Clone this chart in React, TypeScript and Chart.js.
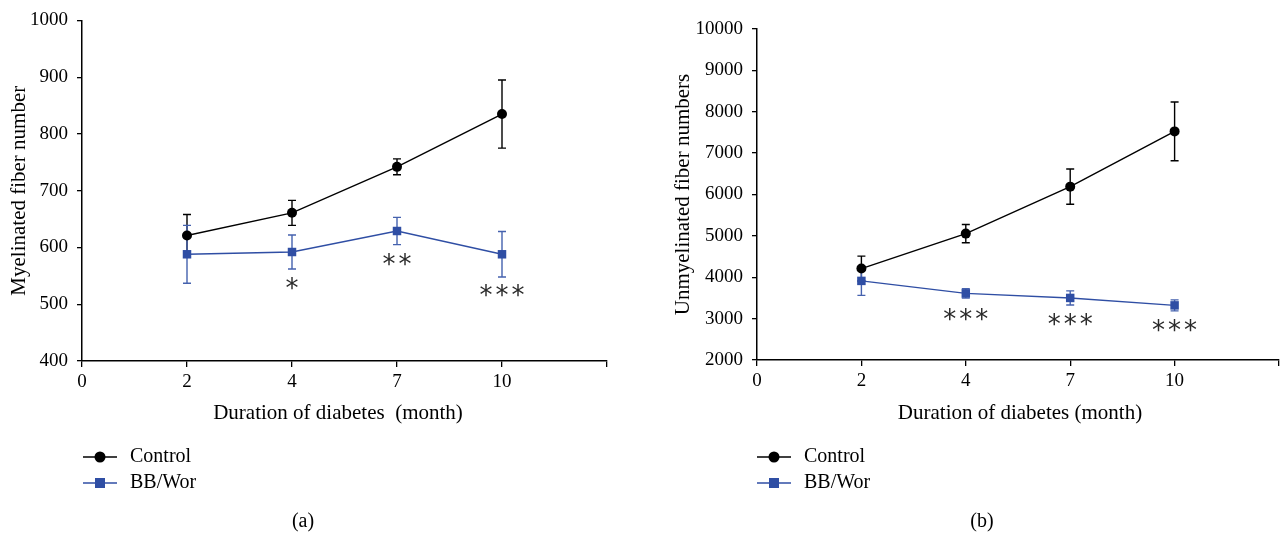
import React, { useEffect, useRef } from 'react';
import { Chart, registerables } from 'chart.js';
Chart.register(...registerables);

const FONT = "'Liberation Serif', 'Times New Roman', serif";
const STAR_FONT = "'DejaVu Sans', sans-serif";
const BLUE = '#2F4EA4';
const BLUE_ERR = '#4562AE';

// x axis tick labels (category-like positions 0..5)
const tickLabels = ['0', '2', '4', '7', '10', ''];
const months = ['2', '4', '7', '10'];

// Panel (a): myelinated fiber number
const myelControl = [621, 661, 742, 835];
const myelControlErr = [37, 22, 14, 60];
const myelBB = [588, 592, 629, 588];
const myelBBErr = [51, 30, 24, 40];
const myelSig = ['', '*', '**', '***'];
const myelSigY = [0, 537, 579, 525];

// Panel (b): unmyelinated fiber numbers
const unmyelControl = [4210, 5055, 6190, 7525];
const unmyelControlErr = [300, 220, 425, 710];
const unmyelBB = [3912, 3610, 3500, 3320];
const unmyelBBErr = [350, 112, 170, 132];
const unmyelSig = ['', '***', '***', '***'];
const unmyelSigY = [0, 3110, 2990, 2845];

const seriesNames = ['Control', 'BB/Wor'];

type PanelCfg = {
  width: number;
  height: number;
  yMin: number;
  yMax: number;
  yStep: number;
  yTitle: string;
  xTitle: string;
  label: string;
  control: number[];
  controlErr: number[];
  bb: number[];
  bbErr: number[];
  sig: string[];
  sigY: number[];
  yWidth: number;
  top: number;
  right: number;
  xHeight: number;
  yTitleX: number;
  xTitleX: number;
  labelX: number;
  legendX: number;
};

function makeChart(canvas: HTMLCanvasElement, p: PanelCfg) {
  const xs = months.map((m) => tickLabels.indexOf(m));
  const pts = (vals: number[]) => vals.map((v, i) => ({ x: xs[i], y: v }));

  const errPlugin = {
    id: 'errbars',
    beforeDatasetsDraw(chart: any) {
      const { ctx, scales } = chart;
      const xS = scales.x;
      const yS = scales.y;
      chart.data.datasets.forEach((ds: any) => {
        ctx.save();
        ctx.strokeStyle = ds.errColor;
        ctx.lineWidth = 1.4;
        ds.data.forEach((pt: any, i: number) => {
          const e = ds.errors[i];
          const px = xS.getPixelForValue(pt.x);
          const top = yS.getPixelForValue(pt.y + e);
          const bot = yS.getPixelForValue(pt.y - e);
          ctx.beginPath();
          ctx.moveTo(px, top);
          ctx.lineTo(px, bot);
          ctx.moveTo(px - 4, top);
          ctx.lineTo(px + 4, top);
          ctx.moveTo(px - 4, bot);
          ctx.lineTo(px + 4, bot);
          ctx.stroke();
        });
        ctx.restore();
      });
    },
  };

  const decoPlugin = {
    id: 'deco',
    afterDraw(chart: any) {
      const { ctx, scales, chartArea } = chart;
      const xS = scales.x;
      const yS = scales.y;
      ctx.save();
      // significance stars
      ctx.fillStyle = '#2a2a2a';
      ctx.font = `26px ${STAR_FONT}`;
      ctx.textBaseline = 'alphabetic';
      ctx.textAlign = 'center';
      p.sig.forEach((s, i) => {
        if (!s) return;
        const cx = xS.getPixelForValue(xs[i]);
        const cy = yS.getPixelForValue(p.sigY[i]);
        const m = ctx.measureText('*');
        const off = (m.actualBoundingBoxAscent - m.actualBoundingBoxDescent) / 2;
        const gap = 16;
        const n = s.length;
        for (let k = 0; k < n; k++) {
          const x = cx + (k - (n - 1) / 2) * gap;
          ctx.fillText('*', x, cy + off);
        }
      });
      // axis titles
      ctx.fillStyle = '#000';
      ctx.font = `21px ${FONT}`;
      ctx.textAlign = 'center';
      ctx.textBaseline = 'middle';
      ctx.fillText(p.xTitle, p.xTitleX, 413);
      ctx.save();
      ctx.translate(p.yTitleX, (chartArea.top + chartArea.bottom) / 2);
      ctx.rotate(-Math.PI / 2);
      ctx.fillText(p.yTitle, 0, 0);
      ctx.restore();
      // legend
      ctx.font = `20px ${FONT}`;
      ctx.textAlign = 'left';
      const lx = p.legendX;
      const rows = [
        { y: 457, color: '#000', shape: 'circle' },
        { y: 483, color: BLUE, shape: 'rect' },
      ];
      rows.forEach((r, i) => {
        ctx.strokeStyle = r.color;
        ctx.fillStyle = r.color;
        ctx.lineWidth = 1.5;
        ctx.beginPath();
        ctx.moveTo(lx, r.y);
        ctx.lineTo(lx + 34, r.y);
        ctx.stroke();
        ctx.beginPath();
        if (r.shape === 'circle') {
          ctx.arc(lx + 17, r.y, 5.5, 0, Math.PI * 2);
        } else {
          ctx.rect(lx + 12, r.y - 5, 10, 10);
        }
        ctx.fill();
        ctx.fillStyle = '#000';
        ctx.fillText(seriesNames[i], lx + 47, r.y);
      });
      // panel label
      ctx.textAlign = 'center';
      ctx.fillText(p.label, p.labelX, 522);
      ctx.restore();
    },
  };

  return new Chart(canvas, {
    type: 'line',
    data: {
      datasets: [
        {
          label: seriesNames[0],
          data: pts(p.control),
          errors: p.controlErr,
          errColor: '#000',
          borderColor: '#000',
          backgroundColor: '#000',
          borderWidth: 1.4,
          pointStyle: 'circle',
          pointRadius: 5,
          pointBorderWidth: 0,
          pointBackgroundColor: '#000',
          tension: 0,
          clip: false,
        } as any,
        {
          label: seriesNames[1],
          data: pts(p.bb),
          errors: p.bbErr,
          errColor: BLUE_ERR,
          borderColor: BLUE,
          backgroundColor: BLUE,
          borderWidth: 1.4,
          pointStyle: 'rect',
          pointRadius: 6,
          pointBorderWidth: 0,
          pointBackgroundColor: BLUE,
          tension: 0,
          clip: false,
        } as any,
      ],
    },
    options: {
      animation: false,
      responsive: false,
      devicePixelRatio: 1,
      layout: { padding: { left: 0, top: p.top, right: p.right, bottom: 0 } },
      plugins: { legend: { display: false }, tooltip: { enabled: false } },
      scales: {
        x: {
          type: 'linear',
          min: 0,
          max: tickLabels.length - 1,
          afterFit: (s: any) => {
            s.height = p.xHeight;
          },
          afterBuildTicks: (s: any) => {
            s.ticks = tickLabels.map((_, i) => ({ value: i }));
          },
          ticks: {
            callback: (v: any) => tickLabels[Number(v)] ?? '',
            color: '#000',
            font: { family: FONT, size: 19 },
            padding: 4,
            maxRotation: 0,
            autoSkip: false,
          },
          grid: {
            display: true,
            drawOnChartArea: false,
            drawTicks: true,
            tickLength: 6,
            color: '#000',
            lineWidth: 1.3,
          },
          border: { display: true, color: '#000', width: 1.5 },
        },
        y: {
          type: 'linear',
          min: p.yMin,
          max: p.yMax,
          afterFit: (s: any) => {
            s.width = p.yWidth;
          },
          ticks: {
            stepSize: p.yStep,
            callback: (v: any) => String(v),
            color: '#000',
            font: { family: FONT, size: 19 },
            padding: 9,
          },
          grid: {
            display: true,
            drawOnChartArea: false,
            drawTicks: true,
            tickLength: 5,
            color: '#000',
            lineWidth: 1.3,
          },
          border: { display: true, color: '#000', width: 1.5 },
        },
      },
    } as any,
    plugins: [errPlugin, decoPlugin],
  });
}

const panelA: PanelCfg = {
  width: 642,
  height: 537,
  yMin: 400,
  yMax: 1000,
  yStep: 100,
  yTitle: 'Myelinated fiber number',
  xTitle: 'Duration of diabetes  (month)',
  label: '(a)',
  control: myelControl,
  controlErr: myelControlErr,
  bb: myelBB,
  bbErr: myelBBErr,
  sig: myelSig,
  sigY: myelSigY,
  yWidth: 82,
  top: 17,
  right: 35,
  xHeight: 176,
  yTitleX: 19,
  xTitleX: 338,
  labelX: 303,
  legendX: 83,
};

const panelB: PanelCfg = {
  width: 643,
  height: 537,
  yMin: 2000,
  yMax: 10000,
  yStep: 1000,
  yTitle: 'Unmyelinated fiber numbers',
  xTitle: 'Duration of diabetes (month)',
  label: '(b)',
  control: unmyelControl,
  controlErr: unmyelControlErr,
  bb: unmyelBB,
  bbErr: unmyelBBErr,
  sig: unmyelSig,
  sigY: unmyelSigY,
  yWidth: 115,
  top: 29,
  right: 3,
  xHeight: 177,
  yTitleX: 41,
  xTitleX: 378,
  labelX: 340,
  legendX: 115,
};

function Panel({ cfg }: { cfg: PanelCfg }) {
  const ref = useRef<HTMLCanvasElement>(null);
  useEffect(() => {
    if (!ref.current) return;
    const c = makeChart(ref.current, cfg);
    return () => c.destroy();
  }, [cfg]);
  return (
    <canvas
      ref={ref}
      width={cfg.width}
      height={cfg.height}
      style={{ display: 'block', width: cfg.width, height: cfg.height }}
    />
  );
}

export default function App() {
  return (
    <div
      style={{
        position: 'absolute',
        left: 0,
        top: 0,
        width: 1285,
        height: 537,
        background: '#fff',
        display: 'flex',
      }}
    >
      <Panel cfg={panelA} />
      <Panel cfg={panelB} />
    </div>
  );
}
